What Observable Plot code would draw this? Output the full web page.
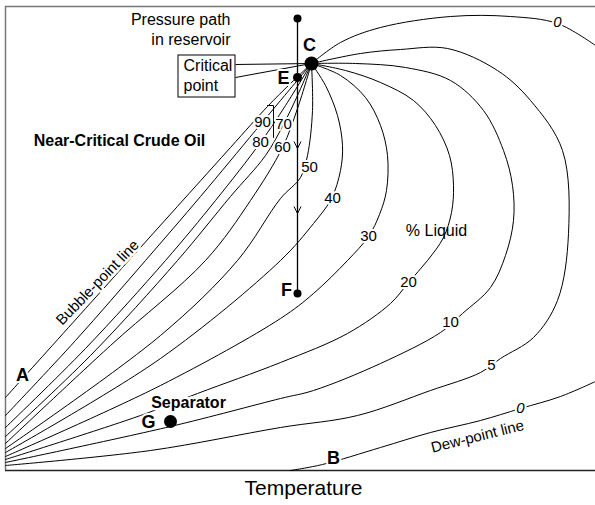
<!DOCTYPE html>
<html><head><meta charset="utf-8">
<script src="https://cdn.jsdelivr.net/npm/d3@7"></script>
<script src="https://cdn.jsdelivr.net/npm/@observablehq/plot@0.6"></script>
<style>body{margin:0;background:#fff}</style>
</head><body><div id="chart"></div>
<script>
// Temperature (arbitrary units, 0-590) vs Pressure (arbitrary units, 0-464)
const bubble = [[0,73],[135,223],[225,323],[262,364],[285,387],[306,407]];
const liq90 = [[0,55],[70,130],[140,210],[195,274],[250,340],[275,370],[306,407]];
const liq80 = [[0,43],[80,122],[160,210],[210,270],[255,328],[280,365],[306,407]];
const liq70 = [[0,34],[85,115],[172,210],[225,274],[260,315],[278,346],[292,375],[306,407]];
const liq60 = [[0,27],[105,125],[200,210],[245,270],[277,323],[292,362],[306,407]];
const liq50 = [[0,22],[155,135],[232,210],[275,272],[295,293],[302,315],[307,360],[306,407]];
const liq40 = [[0,18],[155,112],[275,210],[308,247],[326,272],[335,300],[337,325],[332,355],[320,385],[306,407]];
const liq30 = [[0,14],[155,85],[275,152],[308,177],[342,210],[363,234],[374,256],[381,280],[382,315],[375,345],[360,373],[335,395],[306,407]];
const liq20 = [[0,11],[135,55],[192,77],[275,108],[342,137],[385,167],[403,188],[422,210],[438,233],[446,258],[448,285],[444,315],[430,345],[408,370],[375,388],[340,400],[306,407]];
const liq10 = [[0,8],[165,44],[275,72],[308,80],[375,107],[435,138],[457,157],[485,183],[500,215],[508,250],[507,285],[498,320],[478,360],[445,390],[400,403],[350,407],[306,407]];
const liq5 = [[0,5],[145,20],[275,43],[352,55],[425,80],[475,98],[495,112],[528,133],[552,170],[563,237],[557,320],[525,370],[492,400],[442,422],[395,421],[355,417],[306,407]];
const dewTop = [[306,407],[335,428],[375,443],[445,454],[505,454],[552,447],[590,425]];
const dewBottom = [[285,0],[317,6],[375,23],[425,38],[475,50],[515,62],[555,74],[590,89]];

const curveNames = ["100","90","80","70","60","50","40","30","20","10","5","0top","0bottom"];
const curveData = [bubble,liq90,liq80,liq70,liq60,liq50,liq40,liq30,liq20,liq10,liq5,dewTop,dewBottom];

// quality-line labels
const qText = ["90","80","70","60","50","40","30","20","10","5"];
const qT = [257,255,278,277,304,327,363,403,445,486];
const qP = [348,328,346,323,303,272,234,188,148,105];

// labelled points
const ptName = ["top","C","E","F","G"];
const ptT = [292,306,292,292,165];
const ptP = [452,407,393,177,49];
const ptR = [4,7,4.5,4,6.5];

// pressure path
const pathT = [292,292];
const pathP = [452,177];
const arrowP = [322,257];

const table = curveNames.flatMap((n,i) => curveData[i].map(([t,p]) => ({series:n, t, p})));

const font = "'Liberation Sans', Arial, Helvetica, sans-serif";
const chevron = {draw(ctx){ ctx.moveTo(-3.5,-7); ctx.lineTo(0,0); ctx.lineTo(3.5,-7); }};

const letters = [
  {t:304,p:425,s:"C"},{t:278,p:392,s:"E"},{t:281,p:180,s:"F"},
  {t:17,p:95,s:"A"},{t:328,p:12,s:"B"},{t:143,p:48,s:"G"}
];

const chart = Plot.plot({
  width: 595, height: 505,
  marginLeft: 5, marginRight: 0, marginTop: 6, marginBottom: 35,
  x: {domain: [0,590], axis: null},
  y: {domain: [0,464], axis: null},
  style: {fontFamily: font, background: "white"},
  marks: [
    // frame
    Plot.ruleY([464], {stroke: "#777", strokeWidth: 1.5}),
    Plot.ruleX([0], {y1: 0, y2: 464, stroke: "#777", strokeWidth: 1.5}),
    Plot.ruleY([0], {stroke: "#222", strokeWidth: 1.3}),
    // curves
    Plot.line(table, {x: "t", y: "p", z: "series", curve: "catmull-rom", stroke: "black", strokeWidth: 1}),
    // pressure path
    Plot.line(pathT.map((t,i)=>({t, p: pathP[i]})), {x:"t", y:"p", stroke:"black", strokeWidth:1.3}),
    Plot.dot(arrowP.map(p=>({t:292,p})), {x:"t", y:"p", symbol: chevron, fill:"none", stroke:"black", strokeWidth:1}),
    // critical point box and leaders
    Plot.link([{x1:230,y1:406,x2:306,y2:407},{x1:230,y1:393,x2:306,y2:407}], {x1:"x1",y1:"y1",x2:"x2",y2:"y2", stroke:"black", strokeWidth:1}),
    Plot.rect([{x1:173,x2:230,y1:373,y2:415}], {x1:"x1",x2:"x2",y1:"y1",y2:"y2", fill:"white", stroke:"black", strokeWidth:1}),
    Plot.text(["Critical","point"], {x: 178, y: (d,i)=> i===0 ? 405 : 385, text: d=>d, textAnchor:"start", fontSize:16}),
    // bracket near 90/70 labels
    Plot.line([{t:262,p:365},{t:268,p:365},{t:268,p:333}], {x:"t", y:"p", stroke:"black", strokeWidth:1}),
    // quality labels
    Plot.text(qText.map((s,i)=>({s, t:qT[i], p:qP[i]})), {x:"t", y:"p", text:"s", fontSize:15, fill:"black", stroke:"white", strokeWidth:4, paintOrder:"stroke"}),
    Plot.text([{t:515,p:62},{t:552,p:448}], {x:"t", y:"p", text: d=>"0", fontSize:15, fontStyle:"italic", fill:"black", stroke:"white", strokeWidth:4, paintOrder:"stroke"}),
    // rotated line labels
    Plot.text(["Bubble-point line"], {x: 92, y: 188, text: d=>d, rotate: -46, fontSize:15, fill:"black", stroke:"white", strokeWidth:5, paintOrder:"stroke"}),
    Plot.text(["Dew-point line"], {x: 472, y: 34, text: d=>d, rotate: -14, fontSize:15, fill:"black", stroke:"white", strokeWidth:5, paintOrder:"stroke"}),
    // descriptive texts
    Plot.text(["% Liquid"], {x: 431, y: 240, text: d=>d, fontSize:16}),
    Plot.text(["Near-Critical Crude Oil"], {x: 114, y: 330, text: d=>d, fontSize:16, fontWeight:"bold"}),
    Plot.text(["Separator"], {x: 183, y: 68, text: d=>d, fontSize:16, fontWeight:"bold", fill:"black", stroke:"white", strokeWidth:5, paintOrder:"stroke"}),
    Plot.text(["Pressure path","in reservoir"], {x: 225, y: (d,i)=> i===0 ? 451 : 431, text: d=>d, textAnchor:"end", fontSize:16}),
    // points
    Plot.dot(ptName.map((n,i)=>({n, t:ptT[i], p:ptP[i], r:ptR[i]})), {x:"t", y:"p", r:"r", fill:"black", stroke:"none"}),
    Plot.text(letters, {x:"t", y:"p", text:"s", fontSize:18, fontWeight:"bold", fill:"black", stroke:"white", strokeWidth:4, paintOrder:"stroke"}),
    // axis title
    Plot.text(["Temperature"], {frameAnchor:"bottom", dy: 24, dx: 3, text: d=>d, fontSize:21})
  ],
  r: {type: "identity"}
});
document.getElementById("chart").appendChild(chart);
</script>
</body></html>
